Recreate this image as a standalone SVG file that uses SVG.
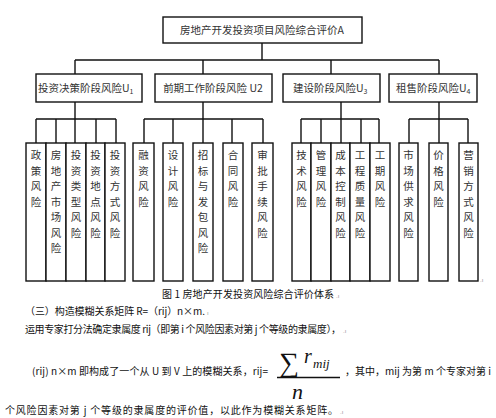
<svg xmlns="http://www.w3.org/2000/svg" width="496" height="418" viewBox="0 0 496 418">
<style>
.box{fill:#fff;stroke:#111;stroke-width:1.4}
.ln{stroke:#111;stroke-width:1.4;fill:none}
.t{font-family:"Noto Sans CJK SC","Noto Sans",sans-serif;fill:#333}
.h{font-size:10.5px;text-anchor:middle}
.v{font-size:10.5px;text-anchor:middle}
.p{font-family:"Noto Sans CJK SC","Noto Sans",sans-serif;font-size:10px;fill:#111}
.m{font-family:"Liberation Serif",serif;font-style:italic;fill:#111}
.pm{font-family:"Liberation Sans",sans-serif;font-size:6px;fill:#999}
</style>
<rect width="496" height="418" fill="#fff"/>
<g id="connectors">
<path class="ln" d="M262 43V60M75 60H439M75 60V74M203 60V74M331 60V74M439 60V74"/>
<path class="ln" d="M75 102V119M36 119H116M36 119V143M56 119V143M75 119V143M96 119V143M116 119V143"/>
<path class="ln" d="M203 102V119M144 119H263M144 119V143M173 119V143M203 119V143M232 119V143M263 119V143"/>
<path class="ln" d="M341 102V119M301 119H379M301 119V143M321 119V143M341 119V143M361 119V143M379 119V143"/>
<path class="ln" d="M439 102V119M409 119H468M409 119V143M439 119V143M468 119V143"/>
</g>
<g id="A"><rect class="box" x="163" y="17" width="199" height="26"/><text class="t h" x="262" y="34" font-size="11">房地产开发投资项目风险综合评价A</text></g>
<g id="U1"><rect class="box" x="36" y="74" width="106" height="28"/><text class="t" x="38" y="92" font-size="10.5">投资决策阶段风险U<tspan font-size="7" dy="2">1</tspan></text></g>
<g id="U2"><rect class="box" x="155" y="74" width="117" height="28"/><text class="t h" x="213" y="92">前期工作阶段风险 U2</text></g>
<g id="U3"><rect class="box" x="283" y="74" width="97" height="28"/><text class="t" x="293" y="92" font-size="10.5">建设阶段风险U<tspan font-size="7" dy="2">3</tspan></text></g>
<g id="U4"><rect class="box" x="389" y="74" width="88" height="28"/><text class="t" x="396" y="92" font-size="10.5">租售阶段风险U<tspan font-size="7" dy="2">4</tspan></text></g>

<g id="L11"><rect class="box" x="26" y="143" width="20" height="138"/><text class="t v"><tspan x="36" y="159">政</tspan><tspan x="36" dy="15.5">策</tspan><tspan x="36" dy="15.5">风</tspan><tspan x="36" dy="15.5">险</tspan></text></g>
<g id="L12"><rect class="box" x="46" y="143" width="20" height="138"/><text class="t v"><tspan x="56" y="159">房</tspan><tspan x="56" dy="15.5">地</tspan><tspan x="56" dy="15.5">产</tspan><tspan x="56" dy="15.5">市</tspan><tspan x="56" dy="15.5">场</tspan><tspan x="56" dy="15.5">风</tspan><tspan x="56" dy="15.5">险</tspan></text></g>
<g id="L13"><rect class="box" x="66" y="143" width="20" height="138"/><text class="t v"><tspan x="76" y="159">投</tspan><tspan x="76" dy="15.5">资</tspan><tspan x="76" dy="15.5">类</tspan><tspan x="76" dy="15.5">型</tspan><tspan x="76" dy="15.5">风</tspan><tspan x="76" dy="15.5">险</tspan></text></g>
<g id="L14"><rect class="box" x="86" y="143" width="19" height="138"/><text class="t v"><tspan x="95.5" y="159">投</tspan><tspan x="95.5" dy="15.5">资</tspan><tspan x="95.5" dy="15.5">地</tspan><tspan x="95.5" dy="15.5">点</tspan><tspan x="95.5" dy="15.5">风</tspan><tspan x="95.5" dy="15.5">险</tspan></text></g>
<g id="L15"><rect class="box" x="105" y="143" width="20" height="138"/><text class="t v"><tspan x="115" y="159">投</tspan><tspan x="115" dy="15.5">资</tspan><tspan x="115" dy="15.5">方</tspan><tspan x="115" dy="15.5">式</tspan><tspan x="115" dy="15.5">风</tspan><tspan x="115" dy="15.5">险</tspan></text></g>

<g id="L21"><rect class="box" x="133" y="143" width="21" height="138"/><text class="t v"><tspan x="143.5" y="159">融</tspan><tspan x="143.5" dy="15.5">资</tspan><tspan x="143.5" dy="15.5">风</tspan><tspan x="143.5" dy="15.5">险</tspan></text></g>
<g id="L22"><rect class="box" x="163" y="143" width="20" height="138"/><text class="t v"><tspan x="173" y="159">设</tspan><tspan x="173" dy="15.5">计</tspan><tspan x="173" dy="15.5">风</tspan><tspan x="173" dy="15.5">险</tspan></text></g>
<g id="L23"><rect class="box" x="193" y="143" width="20" height="138"/><text class="t v"><tspan x="203" y="159">招</tspan><tspan x="203" dy="15.5">标</tspan><tspan x="203" dy="15.5">与</tspan><tspan x="203" dy="15.5">发</tspan><tspan x="203" dy="15.5">包</tspan><tspan x="203" dy="15.5">风</tspan><tspan x="203" dy="15.5">险</tspan></text></g>
<g id="L24"><rect class="box" x="223" y="143" width="20" height="138"/><text class="t v"><tspan x="233" y="159">合</tspan><tspan x="233" dy="15.5">同</tspan><tspan x="233" dy="15.5">风</tspan><tspan x="233" dy="15.5">险</tspan></text></g>
<g id="L25"><rect class="box" x="252" y="143" width="21" height="138"/><text class="t v"><tspan x="262.5" y="159">审</tspan><tspan x="262.5" dy="15.5">批</tspan><tspan x="262.5" dy="15.5">手</tspan><tspan x="262.5" dy="15.5">续</tspan><tspan x="262.5" dy="15.5">风</tspan><tspan x="262.5" dy="15.5">险</tspan></text></g>

<g id="L31"><rect class="box" x="292" y="143" width="19" height="138"/><text class="t v"><tspan x="301.5" y="159">技</tspan><tspan x="301.5" dy="15.5">术</tspan><tspan x="301.5" dy="15.5">风</tspan><tspan x="301.5" dy="15.5">险</tspan></text></g>
<g id="L32"><rect class="box" x="311" y="143" width="20" height="138"/><text class="t v"><tspan x="321" y="159">管</tspan><tspan x="321" dy="15.5">理</tspan><tspan x="321" dy="15.5">风</tspan><tspan x="321" dy="15.5">险</tspan></text></g>
<g id="L33"><rect class="box" x="331" y="143" width="19" height="138"/><text class="t v"><tspan x="340.5" y="159">成</tspan><tspan x="340.5" dy="15.5">本</tspan><tspan x="340.5" dy="15.5">控</tspan><tspan x="340.5" dy="15.5">制</tspan><tspan x="340.5" dy="15.5">风</tspan><tspan x="340.5" dy="15.5">险</tspan></text></g>
<g id="L34"><rect class="box" x="350" y="143" width="20" height="138"/><text class="t v"><tspan x="360" y="159">工</tspan><tspan x="360" dy="15.5">程</tspan><tspan x="360" dy="15.5">质</tspan><tspan x="360" dy="15.5">量</tspan><tspan x="360" dy="15.5">风</tspan><tspan x="360" dy="15.5">险</tspan></text></g>
<g id="L35"><rect class="box" x="370" y="143" width="20" height="138"/><text class="t v"><tspan x="380" y="159">工</tspan><tspan x="380" dy="15.5">期</tspan><tspan x="380" dy="15.5">风</tspan><tspan x="380" dy="15.5">险</tspan></text></g>

<g id="L41"><rect class="box" x="399" y="143" width="19" height="138"/><text class="t v"><tspan x="408.5" y="159">市</tspan><tspan x="408.5" dy="15.5">场</tspan><tspan x="408.5" dy="15.5">供</tspan><tspan x="408.5" dy="15.5">求</tspan><tspan x="408.5" dy="15.5">风</tspan><tspan x="408.5" dy="15.5">险</tspan></text></g>
<g id="L42"><rect class="box" x="429" y="143" width="19" height="138"/><text class="t v"><tspan x="438.5" y="159">价</tspan><tspan x="438.5" dy="15.5">格</tspan><tspan x="438.5" dy="15.5">风</tspan><tspan x="438.5" dy="15.5">险</tspan></text></g>
<g id="L43"><rect class="box" x="459" y="143" width="19" height="138"/><text class="t v"><tspan x="468.5" y="159">营</tspan><tspan x="468.5" dy="15.5">销</tspan><tspan x="468.5" dy="15.5">方</tspan><tspan x="468.5" dy="15.5">式</tspan><tspan x="468.5" dy="15.5">风</tspan><tspan x="468.5" dy="15.5">险</tspan></text></g>
<text class="pm" x="480" y="282">.ı</text>

<g id="text">
<text class="p" x="162" y="298" textLength="172" lengthAdjust="spacing">图 1  房地产开发投资风险综合评价体系</text>
<text class="pm" x="336" y="298">.ı</text>
<text class="p" x="25" y="315" textLength="180" lengthAdjust="spacing">（三）构造模糊关系矩阵 R=（rij）n×m.</text>
<text class="pm" x="207" y="315">ı</text>
<text class="p" x="25" y="333" font-size="9.8" textLength="316" lengthAdjust="spacing">运用专家打分法确定隶属度 rij（即第 i 个风险因素对第 j 个等级的隶属度），</text>
<text class="pm" x="343" y="333">.ı</text>
<text class="p" x="32" y="375" textLength="236" lengthAdjust="spacing">(rij) n×m 即构成了一个从 U 到 V 上的模糊关系，rij=</text>
<text class="m" x="279" y="372" font-size="28" font-style="normal">∑</text>
<text class="m" x="304" y="363" font-size="20">r</text>
<text class="m" x="313" y="368" font-size="13">mij</text>
<path class="ln" d="M277 377.5H340" stroke-width="1"/>
<text class="m" x="292" y="399" font-size="22">n</text>
<text class="p" x="345" y="375" textLength="146" lengthAdjust="spacing">，其中，mij 为第 m 个专家对第 i</text>
<text class="p" x="5" y="414" textLength="333" lengthAdjust="spacing">个风险因素对第 j 个等级的隶属度的评价值，以此作为模糊关系矩阵。</text>
<text class="pm" x="340" y="414">.ı</text>
</g>
</svg>
